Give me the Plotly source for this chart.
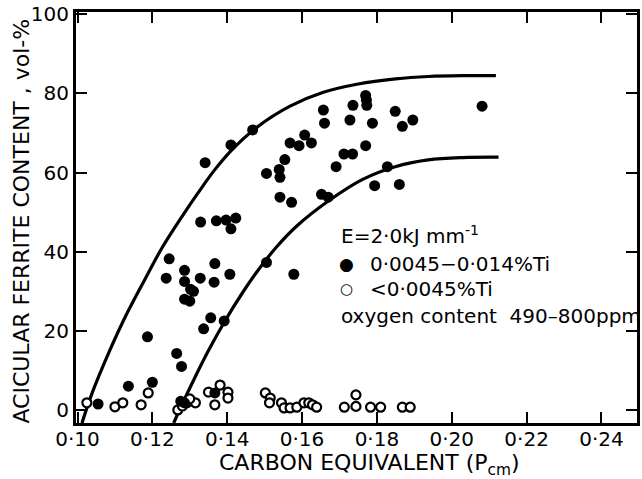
import plotly.graph_objects as go

# ---- data ----
ti_high_x = [0.1055, 0.1136, 0.1200, 0.1187, 0.1245, 0.1237, 0.1265, 0.1278, 0.1276, 0.1286,
             0.1286, 0.1286, 0.1302, 0.1310, 0.1286, 0.1300, 0.1328, 0.1329, 0.1337, 0.1341,
             0.1356, 0.1367, 0.1365, 0.1371, 0.1392, 0.1397, 0.1407, 0.1410, 0.1423, 0.1410,
             0.1468, 0.1505, 0.1505, 0.1539, 0.1541, 0.1554, 0.1541, 0.1572, 0.1578, 0.1568,
             0.1592, 0.1607, 0.1625, 0.1657, 0.1660, 0.1652, 0.1670, 0.1691, 0.1712, 0.1735,
             0.1736, 0.1728, 0.1770, 0.1772, 0.1773, 0.1770, 0.1788, 0.1794, 0.1828, 0.1849,
             0.1860, 0.1868, 0.1896, 0.2081, 0.1367]
ti_high_y = [1.5, 6.0, 7.0, 18.5, 38.2, 33.3, 14.3, 11.0, 2.2, 1.8,
             35.3, 32.5, 30.5, 30.0, 28.0, 27.5, 33.3, 47.5, 20.5, 62.5,
             23.3, 37.0, 32.3, 47.8, 22.5, 48.0, 34.3, 45.8, 48.5, 67.0,
             70.8, 37.3, 59.8, 60.8, 58.8, 63.3, 53.8, 52.5, 34.3, 67.5,
             66.8, 69.5, 67.5, 75.8, 72.5, 54.5, 53.8, 61.5, 64.7, 64.7,
             77.0, 73.3, 79.5, 78.3, 77.0, 66.8, 72.5, 56.7, 61.5, 75.5,
             57.0, 71.7, 73.3, 76.8, 4.3]

ti_low_x = [0.1025, 0.1100, 0.1121, 0.1170, 0.1189, 0.1268, 0.1280, 0.1292, 0.1315, 0.1300,
            0.1350, 0.1367, 0.1381, 0.1402, 0.1402, 0.1502, 0.1515, 0.1513, 0.1545, 0.1552,
            0.1568, 0.1586, 0.1605, 0.1618, 0.1628, 0.1639, 0.1713, 0.1744, 0.1744, 0.1783,
            0.1810, 0.1868, 0.1889]
ti_low_y = [1.8, 0.8, 1.8, 1.3, 4.3, 0.0, 1.0, 1.8, 1.8, 2.8,
            4.5, 1.3, 6.3, 4.5, 3.0, 4.3, 3.0, 1.8, 1.8, 0.5,
            0.5, 0.7, 1.8, 1.8, 1.3, 0.7, 0.7, 3.8, 0.9, 0.7,
            0.7, 0.7, 0.7]

upper_x = [0.1012, 0.1040, 0.1086, 0.1130, 0.1180, 0.1226, 0.1280, 0.1323, 0.1365, 0.1410,
           0.1480, 0.1568, 0.1657, 0.1750, 0.1850, 0.1937, 0.2030, 0.2118]
upper_y = [-3.3, 4.5, 15.0, 24.0, 33.0, 41.0, 49.0, 55.0, 60.5, 65.5,
           71.5, 76.8, 80.3, 82.4, 83.7, 84.3, 84.5, 84.5]

lower_x = [0.1257, 0.1280, 0.1305, 0.1350, 0.1394, 0.1440, 0.1480, 0.1530, 0.1586, 0.1673,
           0.1762, 0.1849, 0.1937, 0.2030, 0.2125]
lower_y = [-3.3, 1.5, 6.5, 15.0, 22.5, 29.5, 35.0, 41.0, 46.5, 53.0,
           58.3, 61.5, 63.2, 63.8, 63.9]

x_ticks = [0.10, 0.12, 0.14, 0.16, 0.18, 0.20, 0.22, 0.24]
x_ticktext = ["0·10", "0·12", "0·14", "0·16", "0·18", "0·20", "0·22", "0·24"]
y_ticks = [0, 20, 40, 60, 80, 100]

FONT = "DejaVu Sans"

fig = go.Figure()
fig.add_trace(go.Scatter(x=upper_x, y=upper_y, mode="lines",
                         line=dict(color="black", width=3.2, shape="spline"), hoverinfo="skip"))
fig.add_trace(go.Scatter(x=lower_x, y=lower_y, mode="lines",
                         line=dict(color="black", width=3.2, shape="spline"), hoverinfo="skip"))
fig.add_trace(go.Scatter(x=ti_low_x, y=ti_low_y, mode="markers",
                         marker=dict(symbol="circle", size=9, color="white",
                                     line=dict(color="black", width=2.2))))
fig.add_trace(go.Scatter(x=ti_high_x, y=ti_high_y, mode="markers",
                         marker=dict(symbol="circle", size=11, color="black",
                                     line=dict(color="black", width=0))))

axis_common = dict(showline=True, linewidth=3, linecolor="black", mirror="ticks",
                   ticks="inside", ticklen=11, tickwidth=2, tickcolor="black",
                   showgrid=False, zeroline=False, ticklabeloverflow="allow",
                   tickfont=dict(family=FONT, size=20, color="black"))

fig.update_xaxes(range=[0.0996, 0.2495], tickvals=x_ticks, ticktext=x_ticktext,
                 ticklabelstandoff=-4, **axis_common)
fig.update_yaxes(range=[-3.3, 100.6], tickvals=y_ticks, **axis_common)

ann_font = dict(family=FONT, size=20, color="black")
fig.update_layout(
    width=642, height=479,
    margin=dict(l=76, r=2, t=8, b=56),
    paper_bgcolor="white", plot_bgcolor="white",
    showlegend=False,
    annotations=[
        dict(text="CARBON EQUIVALENT (P<sub>cm</sub>)", xref="paper", yref="paper",
             x=0.523, y=0, yshift=-41, xanchor="center", yanchor="middle",
             showarrow=False, font=dict(family=FONT, size=22, color="black")),
        dict(text="ACICULAR FERRITE CONTENT , vol-%", xref="paper", yref="paper",
             x=0, xshift=-54, y=0.49, xanchor="center", yanchor="middle", textangle=-90,
             showarrow=False, font=dict(family=FONT, size=22, color="black")),
        dict(text="E=2·0kJ mm<sup>-1</sup>", xref="x", yref="y", x=0.1699, y=44.3,
             xanchor="left", yanchor="middle", showarrow=False, font=ann_font),
        dict(text="●", xref="x", yref="y", x=0.1720, y=37.0,
             xanchor="center", yanchor="middle", showarrow=False, font=dict(family=FONT, size=17, color="black")),
        dict(text="0·0045−0·014%Ti", xref="x", yref="y", x=0.1776, y=37.0,
             xanchor="left", yanchor="middle", showarrow=False, font=ann_font),
        dict(text="○", xref="x", yref="y", x=0.1720, y=30.7,
             xanchor="center", yanchor="middle", showarrow=False, font=dict(family=FONT, size=15, color="black")),
        dict(text="<0·0045%Ti", xref="x", yref="y", x=0.1776, y=30.7,
             xanchor="left", yanchor="middle", showarrow=False, font=ann_font),
        dict(text="oxygen content  490–800ppm", xref="x", yref="y", x=0.1699, y=23.8,
             xanchor="left", yanchor="middle", showarrow=False, font=ann_font),
    ],
)

fig.write_html("out.html")
